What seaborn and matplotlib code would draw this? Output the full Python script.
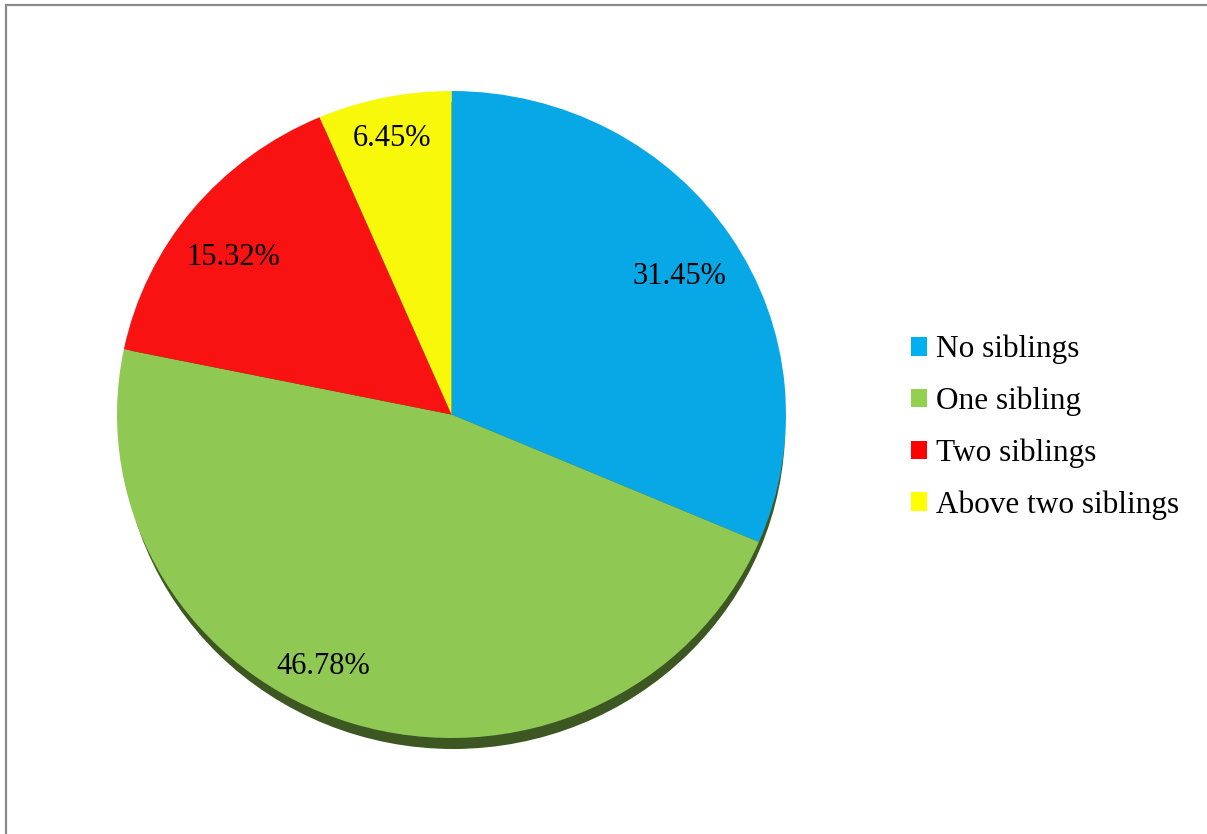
import matplotlib
matplotlib.use("Agg")
import matplotlib.pyplot as plt
from matplotlib.patches import Ellipse, Patch, Rectangle
from matplotlib.transforms import offset_copy
import numpy as np
import seaborn as sns

# Sibling counts share (%)
categories = ["No siblings", "One sibling", "Two siblings", "Above two siblings"]
shares = [31.45, 46.78, 15.32, 6.45]
wedge_colors = ["#08A8E6", "#8FC853", "#F81212", "#F8F80A"]
legend_colors = ["#00B0F0", "#92D050", "#FF0000", "#FFFF00"]

sns.set_style("white")
plt.rcParams["font.family"] = ["Liberation Serif", "DejaVu Serif"]
plt.rcParams["text.color"] = "black"

W, H = 1207, 834
fig = plt.figure(figsize=(W / 100, H / 100), dpi=100)
fig.patch.set_facecolor("white")

# chart frame (open at right/bottom where it runs past the canvas)
fig.patches.append(Rectangle((6 / W, -0.1), 1.2, 1 - 5 / H + 0.1,
                             transform=fig.transFigure, fill=False,
                             edgecolor="#8a8a8a", linewidth=1.6, zorder=0))

# axes spanning the (slightly squashed) pie ellipse
left, right, top, bottom = 117, 786, 91, 738
ax = fig.add_axes([left / W, 1 - bottom / H, (right - left) / W, (bottom - top) / H])
ax.axis("off")

# thin base under the pie
ax.add_patch(Ellipse((0.005, -0.034), 1.985, 2, facecolor="#3D5722", edgecolor="none",
                     zorder=0, clip_on=False))

wedges, _ = ax.pie(shares, colors=wedge_colors, startangle=90, counterclock=False,
                   radius=1, center=(0, 0), frame=False,
                   wedgeprops=dict(linewidth=0, zorder=1))
ax.set_xlim(-1, 1)
ax.set_ylim(-1, 1)
ax.set_aspect("auto")

label_dist = [0.81, 0.86, 0.82, 0.88]
label_shift = [-0.8, -9, 2, 0]
text_tr = offset_copy(ax.transData, fig=fig, x=0, y=-3, units="dots")
for w, v, d, s in zip(wedges, shares, label_dist, label_shift):
    ang = np.deg2rad((w.theta1 + w.theta2) / 2 + s)
    ax.text(d * np.cos(ang), d * np.sin(ang), f"{v:.2f}%", ha="center", va="center",
            fontsize=22, color="black", zorder=3, transform=text_tr)

handles = [Patch(facecolor=c, edgecolor="none") for c in legend_colors]
fig.legend(handles, categories, loc="upper left", bbox_to_anchor=(911 / W, 1 - 335 / H),
           frameon=False, fontsize=22.5, handlelength=0.52, handleheight=0.52,
           handletextpad=0.27, labelspacing=0.71, borderpad=0, borderaxespad=0,
           labelcolor="black")

fig.savefig("out.png", dpi=100, facecolor="white")
